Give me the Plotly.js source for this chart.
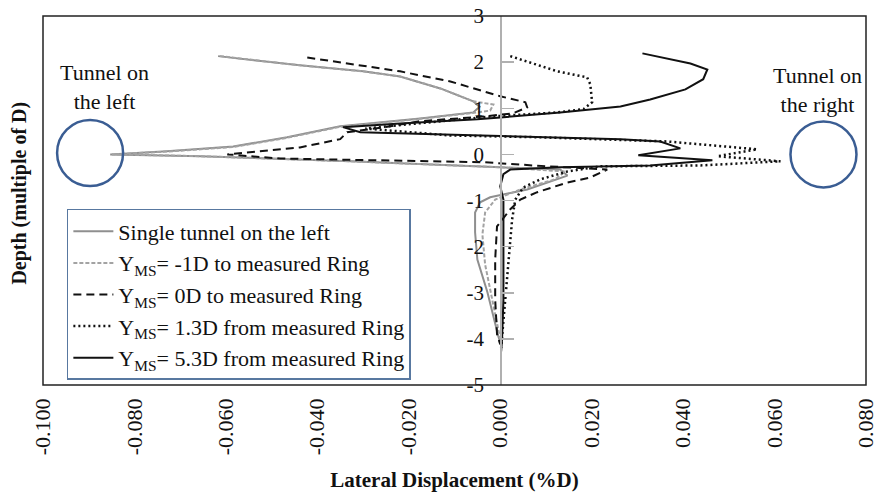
<!DOCTYPE html>
<html>
<head>
<meta charset="utf-8">
<script src="https://cdn.plot.ly/plotly-3.0.1.min.js"></script>
<style>html,body{margin:0;padding:0;background:#fff;}#chart{width:878px;height:495px;}</style>
</head>
<body>
<div id="chart"></div>
<script>
// ---- data (lateral displacement in %D, depth in multiples of D) ----
const seriesNames = [
  "Single tunnel on the left",
  "Y<sub>MS</sub>= -1D to measured Ring",
  "Y<sub>MS</sub>= 0D to measured Ring",
  "Y<sub>MS</sub>= 1.3D from measured Ring",
  "Y<sub>MS</sub>= 5.3D from measured Ring"
];

const singleX = [-0.0617, -0.0438, -0.0300, -0.0219, -0.0131, -0.0059, -0.0045, -0.0059, -0.0175, -0.0350, -0.0466, -0.0584, -0.0729, -0.0853, -0.0656, -0.0328, 0.0000, 0.0131, 0.0147, 0.0059, -0.0022, -0.0044, -0.0055, -0.0055, -0.0050, -0.0028, -0.0004, 0.0000];
const singleY = [2.13, 1.93, 1.80, 1.69, 1.43, 1.15, 1.03, 0.91, 0.78, 0.61, 0.37, 0.17, 0.07, 0.00, -0.04, -0.15, -0.28, -0.33, -0.46, -0.76, -0.93, -1.04, -1.26, -1.69, -2.28, -2.99, -3.95, -4.08];

const m1X = [-0.0613, -0.0438, -0.0300, -0.0219, -0.0131, -0.0059, -0.0015, -0.0022, -0.0050, -0.0175, -0.0350, -0.0466, -0.0584, -0.0729, -0.0849, -0.0656, -0.0328, 0.0000, 0.0142, 0.0120, 0.0044, -0.0011, -0.0033, -0.0039, -0.0033, -0.0018, -0.0002, 0.0000];
const m1Y = [2.13, 1.93, 1.80, 1.69, 1.43, 1.15, 1.08, 0.95, 0.91, 0.77, 0.60, 0.36, 0.16, 0.06, 0.00, -0.04, -0.15, -0.28, -0.37, -0.54, -0.76, -0.98, -1.26, -1.74, -2.39, -3.15, -3.90, -4.00];

const d0X = [-0.0422, -0.0219, -0.0109, 0.0000, 0.0055, 0.0059, 0.0028, -0.0037, -0.0175, -0.0252, -0.0335, -0.0350, -0.0438, -0.0525, -0.0597, -0.0481, -0.0219, -0.0037, 0.0072, 0.0234, 0.0197, 0.0147, 0.0081, 0.0044, 0.0022, -0.0007, -0.0011, -0.0011, -0.0007, 0.0000];
const d0Y = [2.10, 1.80, 1.58, 1.26, 1.13, 1.02, 0.89, 0.82, 0.72, 0.59, 0.48, 0.33, 0.15, 0.07, 0.00, -0.09, -0.13, -0.17, -0.24, -0.33, -0.50, -0.61, -0.82, -0.98, -1.19, -1.56, -2.28, -3.15, -3.90, -4.12];

const d13X = [0.0022, 0.0125, 0.0190, 0.0197, 0.0201, 0.0182, 0.0125, 0.0050, -0.0022, -0.0150, -0.0295, -0.0109, 0.0088, 0.0365, 0.0562, 0.0475, 0.0613, 0.0438, 0.0219, 0.0147, 0.0088, 0.0050, 0.0033, 0.0026, 0.0020, 0.0011, 0.0004, 0.0002];
const d13Y = [2.13, 1.80, 1.67, 1.52, 1.13, 0.98, 0.91, 0.87, 0.82, 0.70, 0.56, 0.41, 0.37, 0.28, 0.11, -0.04, -0.15, -0.24, -0.26, -0.37, -0.54, -0.72, -0.98, -1.41, -2.06, -3.15, -3.95, -4.19];

const d53X = [0.0311, 0.0416, 0.0453, 0.0444, 0.0405, 0.0328, 0.0263, 0.0131, 0.0000, -0.0050, -0.0219, -0.0344, -0.0306, -0.0109, 0.0088, 0.0263, 0.0350, 0.0394, 0.0302, 0.0464, 0.0328, 0.0131, 0.0022, 0.0007, 0.0000, 0.0007, 0.0007, 0.0007, 0.0004, 0.0002];
const d53Y = [2.19, 1.97, 1.84, 1.63, 1.41, 1.19, 1.04, 0.91, 0.80, 0.76, 0.67, 0.59, 0.48, 0.43, 0.39, 0.33, 0.28, 0.13, -0.02, -0.13, -0.24, -0.28, -0.33, -0.43, -0.69, -0.98, -1.74, -3.15, -4.01, -4.27];

const xTickVals = [-0.10, -0.08, -0.06, -0.04, -0.02, 0.00, 0.02, 0.04, 0.06, 0.08];
const xTickText = ["-0.100", "-0.080", "-0.060", "-0.040", "-0.020", "0.000", "0.020", "0.040", "0.060", "0.080"];
const yTickVals = [-5, -4, -3, -2, -1, 0, 1, 2, 3];
const yTickText = ["-5", "-4", "-3", "-2", "-1", "0", "1", "2", "3"];

const tunnelNotes = ["Tunnel on<br>the left", "Tunnel on<br>the right"];

// ---- chart ----
const FONT = "'Liberation Serif', 'Times New Roman', serif";

const traces = [
  {x: singleX, y: singleY, name: seriesNames[0], mode: "lines", line: {color: "#8f8f8f", width: 2}},
  {x: m1X, y: m1Y, name: seriesNames[1], mode: "lines", line: {color: "#a3a3a3", width: 2, dash: "4px,2px"}},
  {x: d0X, y: d0Y, name: seriesNames[2], mode: "lines", line: {color: "#111", width: 2, dash: "8px,5px"}},
  {x: d13X, y: d13Y, name: seriesNames[3], mode: "lines", line: {color: "#111", width: 2.5, dash: "2px,3px"}},
  {x: d53X, y: d53Y, name: seriesNames[4], mode: "lines", line: {color: "#111", width: 2}}
];

const layout = {
  width: 878, height: 495,
  margin: {l: 43, r: 12, t: 16, b: 110},
  paper_bgcolor: "#fff", plot_bgcolor: "#fff",
  font: {family: FONT, color: "#111"},
  showlegend: true,
  xaxis: {
    range: [-0.1, 0.08], tickvals: xTickVals, ticktext: xTickText,
    tickangle: -90, tickfont: {family: FONT, size: 22, color: "#111"},
    ticklabelstandoff: 8, ticklabeloverflow: "allow",
    showgrid: false, zeroline: false, showline: false, ticks: "",
    title: {text: "<b>Lateral Displacement (%D)</b>", font: {family: FONT, size: 21, color: "#111"}, standoff: 18}
  },
  yaxis: {
    range: [-5, 3], anchor: "free", position: 0.5556,
    tickvals: yTickVals, ticktext: yTickText,
    tickfont: {family: FONT, size: 21, color: "#111"},
    showgrid: false, zeroline: false, showline: true, linecolor: "#b0b0b0", linewidth: 1.5,
    ticks: "inside", ticklen: 12, tickcolor: "#b0b0b0", tickwidth: 1.5, ticklabelstandoff: 12
  },
  legend: {
    x: 0.029, y: 0.477, xanchor: "left", yanchor: "top",
    bgcolor: "#fff", bordercolor: "#5878a0", borderwidth: 1.5,
    itemwidth: 40,
    font: {family: FONT, size: 22, color: "#111"}
  },
  shapes: [
    {type: "rect", xref: "paper", yref: "paper", x0: 0, x1: 1, y0: 0, y1: 1, line: {color: "#222", width: 1.5}},
    {type: "circle", xref: "x", yref: "y", xsizemode: "pixel", ysizemode: "pixel", xanchor: -0.0897, yanchor: 0.03, x0: -33, x1: 33, y0: -33, y1: 33, line: {color: "#3a5d93", width: 2.5}},
    {type: "circle", xref: "x", yref: "y", xsizemode: "pixel", ysizemode: "pixel", xanchor: 0.0707, yanchor: 0.0, x0: -33, x1: 33, y0: -33, y1: 33, line: {color: "#3a5d93", width: 2.5}}
  ],
  annotations: [
    {text: tunnelNotes[0], xref: "x", yref: "y", x: -0.0866, y: 1.45, showarrow: false, font: {family: FONT, size: 22, color: "#111"}, align: "center"},
    {text: tunnelNotes[1], xref: "x", yref: "y", x: 0.0694, y: 1.39, showarrow: false, font: {family: FONT, size: 22, color: "#111"}, align: "center"},
    {text: "<b>Depth (multiple of D)</b>", xref: "paper", yref: "paper", x: 0, xshift: -37, y: 0.52, textangle: -90, showarrow: false, font: {family: FONT, size: 20, color: "#111"}}
  ]
};

Plotly.newPlot("chart", traces, layout, {displayModeBar: false, staticPlot: true});
</script>
</body>
</html>
